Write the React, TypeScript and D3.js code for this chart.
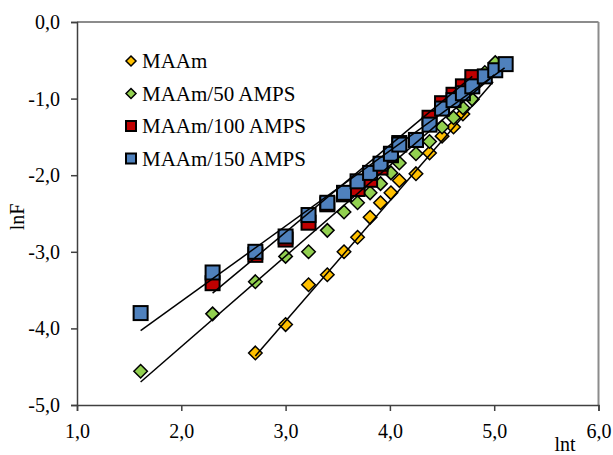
import { useEffect, useRef } from 'react';
import * as d3 from 'd3';

// ln t values (x) and ln F values (y)
const maamX = [2.71, 3.0, 3.22, 3.4, 3.56, 3.69, 3.81, 3.91, 4.01, 4.09, 4.25, 4.38, 4.5, 4.61, 4.7];
const maamY = [-4.32, -3.95, -3.43, -3.3, -3.0, -2.81, -2.55, -2.36, -2.23, -2.07, -1.98, -1.71, -1.49, -1.37, -1.2];

const amps50X = [1.61, 2.3, 2.71, 3.0, 3.22, 3.4, 3.56, 3.69, 3.81, 3.91, 4.01, 4.09, 4.25, 4.38, 4.5, 4.61, 4.7, 4.79, 4.91, 5.01];
const amps50Y = [-4.56, -3.81, -3.39, -3.06, -3.0, -2.72, -2.48, -2.36, -2.23, -2.11, -1.97, -1.84, -1.72, -1.56, -1.37, -1.25, -1.12, -1.01, -0.66, -0.53];

const amps100X = [2.3, 2.71, 3.0, 3.22, 3.4, 3.56, 3.69, 3.81, 3.91, 4.01, 4.09, 4.25, 4.38, 4.5, 4.61, 4.7, 4.79];
const amps100Y = [-3.41, -3.04, -2.84, -2.62, -2.38, -2.25, -2.18, -2.06, -1.9, -1.74, -1.58, -1.54, -1.25, -1.06, -0.95, -0.84, -0.72];

const amps150X = [1.61, 2.3, 2.71, 3.0, 3.22, 3.4, 3.56, 3.69, 3.81, 3.91, 4.01, 4.09, 4.25, 4.38, 4.5, 4.61, 4.7, 4.79, 4.91, 5.01, 5.11];
const amps150Y = [-3.8, -3.27, -3.0, -2.8, -2.52, -2.36, -2.23, -2.08, -1.97, -1.85, -1.72, -1.6, -1.54, -1.34, -1.13, -1.02, -0.93, -0.84, -0.71, -0.63, -0.55];

// trend line end points [x0, y0, x1, y1]
const maamFit = [2.71, -4.36, 4.99, -0.78];
const amps50Fit = [1.61, -4.7, 5.0, -0.69];
const amps100Fit = [2.3, -3.54, 4.79, -0.71];
const amps150Fit = [1.61, -4.03, 5.1, -0.6];

const seriesNames = ['MAAm', 'MAAm/50 AMPS', 'MAAm/100 AMPS', 'MAAm/150 AMPS'];
const xTicks = [1, 2, 3, 4, 5, 6];
const yTicks = [0, -1, -2, -3, -4, -5];

const fmt = (v: number) => v.toFixed(1).replace('.', ',');

export default function App() {
  const svgRef = useRef<SVGSVGElement>(null);

  useEffect(() => {
    document.body.style.margin = '0';
    const svg = d3.select(svgRef.current);
    svg.selectAll('*').remove();

    const left = 77, right = 598.5, top = 22, bottom = 405;
    const font = '"Liberation Serif", "Times New Roman", serif';

    const x = d3.scaleLinear().domain([1, 6]).range([left, right]);
    const y = d3.scaleLinear().domain([-5, 0]).range([bottom, top]);

    const series = [
      { xs: maamX, ys: maamY, fit: maamFit, color: '#FFC000', shape: 'diamond' },
      { xs: amps50X, ys: amps50Y, fit: amps50Fit, color: '#92D050', shape: 'diamond' },
      { xs: amps100X, ys: amps100Y, fit: amps100Fit, color: '#C00000', shape: 'square' },
      { xs: amps150X, ys: amps150Y, fit: amps150Fit, color: '#4F81BD', shape: 'square' },
    ];

    // plot frame: top/right light grey, left/bottom axes darker
    svg.append('line').attr('x1', left).attr('x2', right).attr('y1', top).attr('y2', top)
      .attr('stroke', '#8c8c8c').attr('stroke-width', 2);
    svg.append('line').attr('x1', right).attr('x2', right).attr('y1', top).attr('y2', bottom)
      .attr('stroke', '#8c8c8c').attr('stroke-width', 2);

    const gx = svg.append('g').attr('transform', `translate(0,${bottom})`)
      .call(d3.axisBottom(x).tickValues(xTicks).tickSize(6).tickFormat((d) => fmt(d as number)));
    const gy = svg.append('g').attr('transform', `translate(${left},0)`)
      .call(d3.axisLeft(y).tickValues(yTicks).tickSize(6).tickFormat((d) => fmt(d as number)));

    [gx, gy].forEach((g) => {
      g.selectAll('.domain, .tick line').attr('stroke', '#404040').attr('stroke-width', 1.5);
      g.selectAll('text')
        .style('font-family', font)
        .style('font-size', '20px')
        .attr('fill', '#000');
    });
    gx.selectAll('text').attr('y', 19).attr('dy', '0.71em');
    gy.selectAll('text').attr('x', -17);

    svg.append('text').attr('x', 565).attr('y', 451).attr('text-anchor', 'middle')
      .style('font-family', font).style('font-size', '20px').text('lnt');
    svg.append('text').attr('transform', 'translate(24,217) rotate(-90)').attr('text-anchor', 'middle')
      .style('font-family', font).style('font-size', '20px').text('lnF');

    const drawMarker = (g: any, shape: string, cx: number, cy: number, size: number, color: string) => {
      if (shape === 'diamond') {
        const h = size / 2;
        g.append('path')
          .attr('d', `M${cx},${cy - h}L${cx + h},${cy}L${cx},${cy + h}L${cx - h},${cy}Z`)
          .attr('fill', color).attr('stroke', '#000').attr('stroke-width', 1.5);
      } else {
        g.append('rect')
          .attr('x', cx - size / 2).attr('y', cy - size / 2)
          .attr('width', size).attr('height', size)
          .attr('fill', color).attr('stroke', '#000').attr('stroke-width', 2);
      }
    };

    const marks = svg.append('g');
    series.forEach((s) => {
      s.xs.forEach((v, i) => {
        drawMarker(marks, s.shape, x(v), y(s.ys[i]), s.shape === 'diamond' ? 13.5 : 14, s.color);
      });
    });

    const fits = svg.append('g');
    series.forEach((s) => {
      fits.append('line')
        .attr('x1', x(s.fit[0])).attr('y1', y(s.fit[1]))
        .attr('x2', x(s.fit[2])).attr('y2', y(s.fit[3]))
        .attr('stroke', '#000').attr('stroke-width', 1.5);
    });

    // legend
    const legend = svg.append('g');
    seriesNames.forEach((name, i) => {
      const cy = 61 + i * 32.5;
      const s = series[i];
      drawMarker(legend, s.shape, 131, cy, s.shape === 'diamond' ? 10 : 10, s.color);
      legend.append('text').attr('x', 142).attr('y', cy + 7)
        .style('font-family', font).style('font-size', '21px').text(name);
    });
  }, []);

  return <svg ref={svgRef} width={613} height={455} style={{ display: 'block', background: '#fff' }} />;
}
